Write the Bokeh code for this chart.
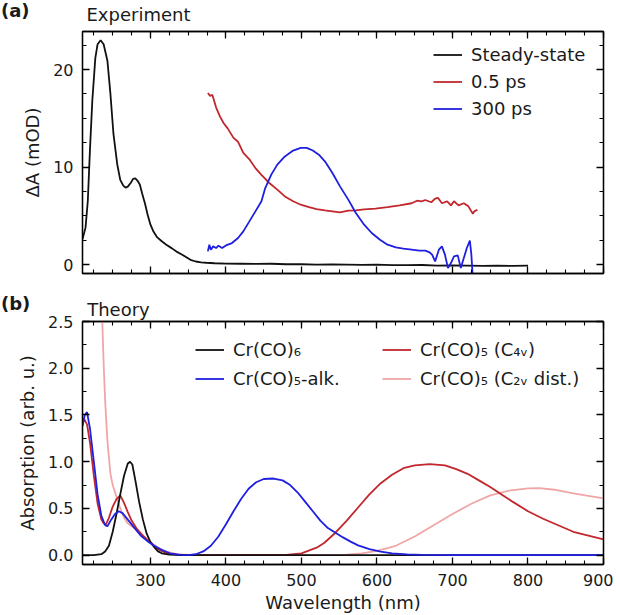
from bokeh.plotting import figure
from bokeh.models import (Range1d, LinearAxis, SingleIntervalTicker, Legend, LegendItem,
                          NumeralTickFormatter, Title)
from bokeh.core.properties import value
from bokeh.layouts import column
from bokeh.embed import file_html
from bokeh.resources import INLINE

# ---------------- data: (a) Experiment ----------------
ss_x = [210, 214, 217, 220, 223, 227, 230, 234, 238, 243, 247, 251, 256, 260, 264, 267, 270, 274, 277, 280,
        283, 286, 289, 293, 296, 300, 304, 309, 315, 321, 328, 334, 342, 347, 353, 360, 367, 374, 385, 400,
        420, 440, 460, 480, 500, 520, 540, 560, 580, 600, 620, 640, 660, 680, 700, 720, 740, 760, 780, 800]
ss_y = [2.6, 3.8, 6.5, 12.0, 16.8, 21.2, 22.6, 23.0, 22.6, 20.9, 17.5, 13.4, 10.3, 8.7, 8.1, 7.9, 8.0, 8.4, 8.8, 8.85,
        8.6, 8.2, 7.3, 6.2, 5.2, 4.1, 3.4, 2.8, 2.4, 2.05, 1.7, 1.37, 1.03, 0.8, 0.5, 0.33, 0.25, 0.2, 0.15, 0.12,
        0.1, 0.08, 0.1, 0.05, 0.05, 0.0, 0.02, 0.0, -0.02, 0.0, -0.05, -0.05, -0.03, -0.1, -0.08, -0.1, -0.12, -0.1, -0.12, -0.1]

r05_x = [376, 379, 382, 387, 392, 397, 402, 410, 416, 423, 431, 439, 447, 457, 468, 478, 489, 499, 510, 520,
         531, 541, 551, 562, 572, 583, 598, 614, 630, 646, 653, 659, 664, 672, 677, 681, 686, 693, 698, 702,
         708, 715, 721, 727, 729, 733]
r05_y = [17.6, 17.3, 17.4, 16.1, 15.2, 14.5, 14.0, 13.0, 12.6, 11.45, 10.8, 9.9, 9.2, 8.4, 7.7, 7.0, 6.5, 6.15, 5.9, 5.7,
         5.57, 5.47, 5.37, 5.54, 5.57, 5.68, 5.74, 5.9, 6.08, 6.3, 6.56, 6.5, 6.63, 6.4, 6.77, 6.84, 6.3, 6.5, 6.08, 6.5,
         6.08, 6.3, 5.98, 5.23, 5.47, 5.64]

b300_x = [376, 378, 380, 383, 387, 390, 395, 400, 408, 416, 423, 431, 439, 447, 452, 460, 468, 478, 489, 499,
          507, 515, 523, 531, 541, 551, 562, 572, 583, 593, 604, 614, 625, 635, 646, 656, 664, 669, 673, 677,
          682, 686, 690, 694, 698, 702, 707, 711, 715, 719, 723, 725, 727]
b300_y = [1.37, 2.05, 1.54, 1.88, 1.71, 1.95, 1.71, 1.98, 2.22, 2.74, 3.42, 4.44, 5.47, 6.5, 7.86, 9.23, 10.26, 11.1, 11.7, 11.97,
          11.97, 11.7, 11.28, 10.6, 9.4, 8.03, 6.67, 5.3, 4.1, 3.25, 2.56, 2.05, 1.78, 1.64, 1.54, 1.44, 1.44, 1.3, 1.03, 0.34,
          1.54, 1.88, 1.03, -0.34, 0.17, 0.85, 0.96, -0.34, 0.68, 1.71, 2.46, 1.03, -1.5]

# ---------------- data: (b) Theory ----------------
c6_x = [210, 225, 235, 240, 245, 250, 255, 260, 265, 270, 273, 276, 280, 285, 290, 295, 300, 305, 310, 315, 325, 340, 900]
c6_y = [0.0, 0.0, 0.01, 0.04, 0.1, 0.25, 0.44, 0.65, 0.85, 0.98, 1.0, 0.97, 0.8, 0.57, 0.38, 0.23, 0.14, 0.085, 0.04, 0.02, 0.005, 0.0, 0.0]

alk_x = [210, 213, 216, 220, 225, 230, 235, 240, 243, 248, 253, 258, 263, 270, 278, 287, 296, 305, 314, 326,
         340, 350, 360, 370, 380, 390, 400, 410, 420, 430, 440, 450, 463, 475, 485, 495, 505, 515, 525, 535,
         545, 555, 565, 575, 590, 605, 620, 640, 660, 700, 900]
alk_y = [1.38, 1.5, 1.53, 1.35, 1.0, 0.65, 0.42, 0.32, 0.31, 0.38, 0.44, 0.47, 0.45, 0.38, 0.3, 0.21, 0.15, 0.1, 0.06, 0.02,
         0.002, 0.0, 0.01, 0.04, 0.1, 0.2, 0.33, 0.47, 0.6, 0.71, 0.78, 0.815, 0.82, 0.8, 0.75, 0.67, 0.57, 0.47, 0.37, 0.29,
         0.24, 0.19, 0.145, 0.105, 0.065, 0.038, 0.02, 0.008, 0.003, 0.0, 0.0]

c4_x = [210, 212, 216, 220, 225, 230, 235, 238, 241, 245, 250, 255, 260, 265, 270, 275, 282, 290, 296, 303,
        309, 316, 322, 335, 360, 480, 500, 520, 530, 545, 560, 575, 590, 605, 620, 635, 650, 670, 690, 705,
        720, 735, 750, 765, 780, 800, 820, 840, 860, 880, 900]
c4_y = [1.4, 1.46, 1.4, 1.2, 0.85, 0.55, 0.38, 0.34, 0.33, 0.4, 0.52, 0.6, 0.64, 0.56, 0.46, 0.37, 0.28, 0.21, 0.16, 0.11,
        0.07, 0.04, 0.02, 0.005, 0.0, 0.003, 0.02, 0.08, 0.13, 0.24, 0.37, 0.51, 0.65, 0.77, 0.86, 0.93, 0.96, 0.975, 0.96, 0.92,
        0.87, 0.8, 0.73, 0.65, 0.57, 0.47, 0.39, 0.32, 0.25, 0.21, 0.17]

c2_x = [220, 226, 230, 233, 236, 238, 240, 243, 247, 250, 254, 260, 265, 270, 275, 280, 290, 300, 310, 320,
        335, 350, 560, 580, 600, 625, 650, 675, 700, 725, 750, 775, 800, 815, 835, 860, 880, 900]
c2_y = [7.0, 4.5, 3.6, 3.0, 2.55, 2.05, 1.65, 1.22, 0.87, 0.75, 0.65, 0.5, 0.4, 0.34, 0.31, 0.28, 0.21, 0.14, 0.08, 0.04,
        0.01, 0.002, 0.005, 0.02, 0.045, 0.1, 0.2, 0.32, 0.44, 0.55, 0.64, 0.69, 0.715, 0.717, 0.70, 0.66, 0.635, 0.607]

exp_labels = ["Steady-state", "0.5 ps", "300 ps"]
theo_labels = ["Cr(CO)\u2086", "Cr(CO)\u2085-alk.", "Cr(CO)\u2085 (C\u2084\u1d65)", "Cr(CO)\u2085 (C\u2082\u1d65 dist.)"]
panel_tags = ["(a)", "(b)"]
panel_titles = ["Experiment", "Theory"]

FONT = "DejaVu Sans"
TXT = "#1a1a1a"
BLACK = "#111111"
RED = "#c1272d"
BLUE = "#1f1fe0"
PINK = "#f0a6a6"
LW = 1.8
FULL_W = 613


def style_axis(ax, interval, minor, show_labels, label=None, fmt=None):
    ax.ticker = SingleIntervalTicker(interval=interval, num_minor_ticks=minor)
    ax.major_tick_in = 7
    ax.major_tick_out = 0
    ax.minor_tick_in = 4
    ax.minor_tick_out = 0
    ax.major_tick_line_color = "black"
    ax.minor_tick_line_color = "black"
    ax.major_tick_line_width = 1.3
    ax.minor_tick_line_width = 1.1
    ax.axis_line_color = "black"
    ax.axis_line_width = 1.3
    ax.major_label_text_font = FONT
    if fmt is not None:
        ax.formatter = fmt
    if show_labels:
        ax.major_label_text_color = TXT
        ax.major_label_text_font_size = "16px"
        ax.major_label_standoff = 9
    else:
        ax.major_label_text_color = None
        ax.major_label_text_font_size = "1px"
        ax.major_label_standoff = 0
    if label:
        ax.axis_label = label
        ax.axis_label_text_font = FONT
        ax.axis_label_text_font_style = "normal"
        ax.axis_label_text_color = TXT
        ax.axis_label_text_font_size = "18px"
        ax.axis_label_standoff = 7


def make_fig(yr, fh, top, bottom):
    p = figure(frame_width=521, frame_height=fh, x_range=Range1d(210, 900), y_range=yr,
               output_backend="svg", toolbar_location=None,
               min_border_left=82, min_border_right=10, min_border_top=top, min_border_bottom=bottom)
    p.grid.visible = False
    p.outline_line_color = "black"
    p.outline_line_width = 1.3
    p.background_fill_color = "white"
    p.border_fill_color = "white"
    return p


def legend(items, loc, spacing):
    return Legend(items=items, location=loc, padding=0, margin=0, spacing=spacing,
                  label_height=21, glyph_height=21, glyph_width=29, label_standoff=9,
                  border_line_color=None, background_fill_alpha=0,
                  label_text_font=FONT, label_text_font_size="18px", label_text_color=TXT)


# ---------------- header of panel (a) ----------------
h1 = figure(width=FULL_W, height=28, x_range=Range1d(0, FULL_W), y_range=Range1d(0, 28),
            output_backend="svg", toolbar_location=None, x_axis_location=None, y_axis_location=None,
            min_border=0, frame_align=False)
h1.grid.visible = False
h1.outline_line_color = None
h1.text(x=[0.5], y=[18], text=[panel_tags[0]], text_font=value(FONT), text_font_size="18px",
        text_font_style="bold", text_color=TXT, text_baseline="middle", text_align="left")
h1.text(x=[86], y=[14.5], text=[panel_titles[0]], text_font=value(FONT), text_font_size="18px",
        text_color=TXT, text_baseline="middle", text_align="left")

# ---------------- panel (a) ----------------
p1 = make_fig(Range1d(-0.9, 23.9), 242, 3, 4)
r_ss = p1.line(ss_x, ss_y, line_color=BLACK, line_width=LW)
r_05 = p1.line(r05_x, r05_y, line_color=RED, line_width=LW)
r_300 = p1.line(b300_x, b300_y, line_color=BLUE, line_width=LW)
style_axis(p1.xaxis[0], 100, 4, False)
style_axis(p1.yaxis[0], 10, 4, True, label="\u0394A (mOD)")
ax = LinearAxis(); style_axis(ax, 10, 4, False); p1.add_layout(ax, "right")
ax = LinearAxis(); style_axis(ax, 100, 4, False); p1.add_layout(ax, "above")
p1.add_layout(legend([LegendItem(label=exp_labels[0], renderers=[r_ss]),
                      LegendItem(label=exp_labels[1], renderers=[r_05]),
                      LegendItem(label=exp_labels[2], renderers=[r_300])], (351, 154), 6))

# ---------------- panel (b) ----------------
p2 = make_fig(Range1d(-0.1, 2.5), 243, 44, 10)
r_c2 = p2.line(c2_x, c2_y, line_color=PINK, line_width=LW)
r_c4 = p2.line(c4_x, c4_y, line_color=RED, line_width=LW)
r_c6 = p2.line(c6_x, c6_y, line_color=BLACK, line_width=LW)
r_alk = p2.line(alk_x, alk_y, line_color=BLUE, line_width=LW)
style_axis(p2.xaxis[0], 100, 4, True, label="Wavelength (nm)")
p2.xaxis[0].axis_label_standoff = 3
style_axis(p2.yaxis[0], 0.5, 2, True, label="Absorption (arb. u.)", fmt=NumeralTickFormatter(format="0.0"))
ax = LinearAxis(); style_axis(ax, 0.5, 2, False); p2.add_layout(ax, "right")
ax = LinearAxis(); style_axis(ax, 100, 4, False); p2.add_layout(ax, "above")
p2.add_layout(Title(text=panel_titles[1], align="left", offset=4.7, standoff=4, vertical_align="bottom",
                    text_font=FONT, text_font_size="18px", text_font_style="normal", text_color=TXT), "above")
p2.add_layout(Title(text=panel_tags[1], align="left", offset=-81.5, standoff=-39, vertical_align="bottom",
                    text_font=FONT, text_font_size="18px", text_font_style="bold", text_color=TXT), "above")
p2.add_layout(legend([LegendItem(label=theo_labels[0], renderers=[r_c6]),
                      LegendItem(label=theo_labels[1], renderers=[r_alk])], (113, 175), 8))
p2.add_layout(legend([LegendItem(label=theo_labels[2], renderers=[r_c4]),
                      LegendItem(label=theo_labels[3], renderers=[r_c2])], (300, 175), 8))

layout = column(h1, p1, p2, spacing=0)
open("out.html", "w").write(file_html(layout, INLINE))
